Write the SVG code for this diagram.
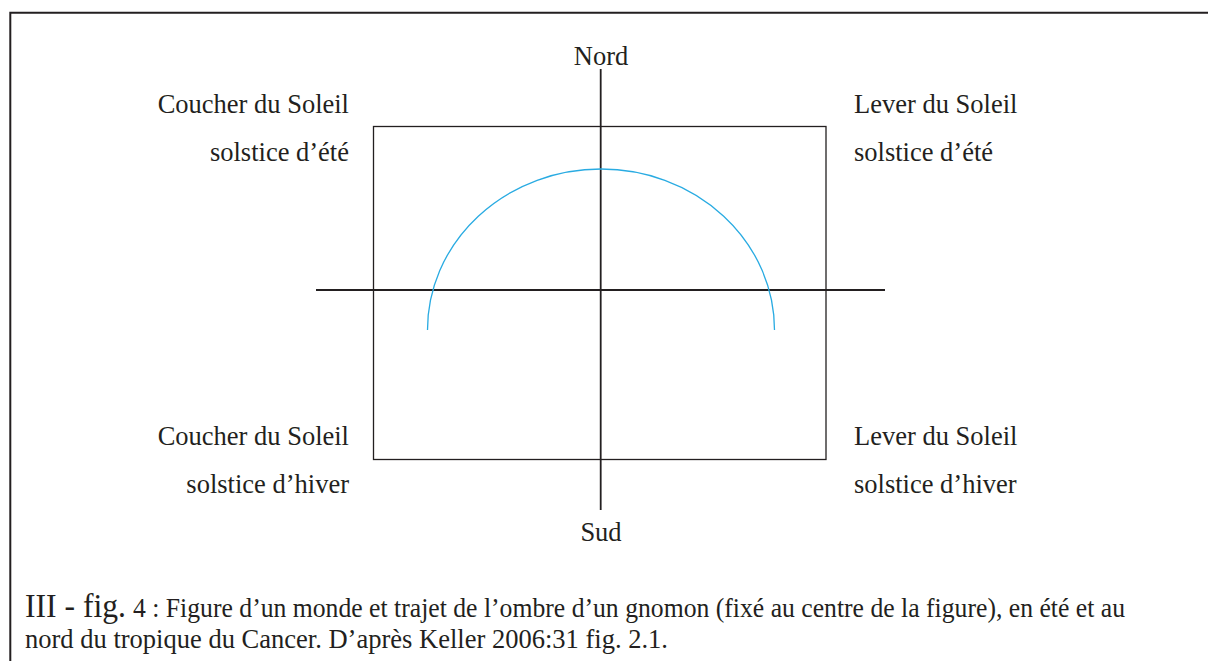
<svg xmlns="http://www.w3.org/2000/svg" width="1208" height="661" viewBox="0 0 1208 661">
<style>
.t{font-family:"Liberation Serif","Times New Roman",serif;fill:#231f20;font-size:26.5px}
.c{font-family:"Liberation Serif","Times New Roman",serif;fill:#231f20;font-size:26.5px}
.big{font-family:"Liberation Serif","Times New Roman",serif;fill:#231f20;font-size:33px}
.ax{stroke:#231f20;stroke-width:1.8;fill:none}
.bx{stroke:#231f20;stroke-width:1.3;fill:none}
</style>
<rect width="1208" height="661" fill="#fff"/>
<path d="M10.3,661 V12.8 H1208" stroke="#231f20" stroke-width="2" fill="none"/>
<g id="monde"><rect class="bx" x="373.5" y="126.5" width="452.5" height="333"/></g>
<g id="connectors">
<line class="ax" x1="600.7" y1="69" x2="600.7" y2="510"/>
<line class="ax" x1="316" y1="290" x2="885" y2="290"/>
</g>
<g id="trajet"><path d="M427.5,330 A173.5,161 0 0 1 774.5,330" stroke="#29abe2" stroke-width="1.3" fill="none"/></g>
<g id="nord"><text class="t" x="601" y="65" text-anchor="middle">Nord</text></g>
<g id="sud"><text class="t" x="601" y="541" text-anchor="middle">Sud</text></g>
<g id="coucher-ete"><text class="t" x="349" y="113" text-anchor="end">Coucher du Soleil</text><text class="t" x="349" y="161" text-anchor="end">solstice d’été</text></g>
<g id="lever-ete"><text class="t" x="854" y="113">Lever du Soleil</text><text class="t" x="854" y="161">solstice d’été</text></g>
<g id="coucher-hiver"><text class="t" x="349" y="445" text-anchor="end">Coucher du Soleil</text><text class="t" x="349" y="492.5" text-anchor="end">solstice d’hiver</text></g>
<g id="lever-hiver"><text class="t" x="854" y="445">Lever du Soleil</text><text class="t" x="854" y="492.5">solstice d’hiver</text></g>
<g id="caption">
<text class="big" x="25" y="617" textLength="101" lengthAdjust="spacingAndGlyphs">III - fig.</text>
<text class="c" x="133" y="617" textLength="992" lengthAdjust="spacingAndGlyphs">4 : Figure d’un monde et trajet de l’ombre d’un gnomon (fixé au centre de la figure), en été et au</text>
<text class="c" x="25" y="648" textLength="643" lengthAdjust="spacingAndGlyphs">nord du tropique du Cancer. D’après Keller 2006:31 fig. 2.1.</text>
</g>
</svg>
